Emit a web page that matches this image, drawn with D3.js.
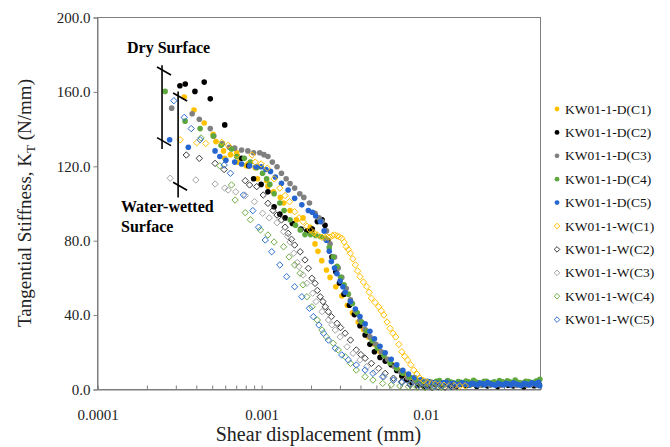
<!DOCTYPE html>
<html>
<head>
<meta charset="utf-8">
<script src="https://cdn.jsdelivr.net/npm/d3@7"></script>
<style>
  body { margin: 0; background: #fff; }
  svg { display: block; font-family: "Liberation Serif", "Times New Roman", serif; }
</style>
</head>
<body>
<div id="chart"></div>
<script>
// Series names (legend order = drawing order)
const seriesNames = ["KW01-1-D(C1)", "KW01-1-D(C2)", "KW01-1-D(C3)", "KW01-1-D(C4)", "KW01-1-D(C5)",
                     "KW01-1-W(C1)", "KW01-1-W(C2)", "KW01-1-W(C3)", "KW01-1-W(C4)", "KW01-1-W(C5)"];

// [shear displacement (mm), tangential stiffness (N/mm)]
const dryC1 = [[3.4e-4,157],[3.9e-4,150],[4.5e-4,143],[5.1e-4,137],[5.3e-4,133],[5.9e-4,128],[6.0e-4,124],[6.5e-4,126],[7.1e-4,127],[7.2e-4,122],[8.1e-4,120],[8.3e-4,121],[9.2e-4,119],[9.5e-4,113],[1.08e-3,112],[1.1e-3,109],[1.19e-3,106],[1.31e-3,103],[1.37e-3,100],[1.5e-3,96],[1.64e-3,91],[1.8e-3,92],[1.99e-3,87],[2.05e-3,84],[2.13e-3,78],[2.22e-3,74],[2.34e-3,69],[2.5e-3,64],[2.63e-3,60],[2.85e-3,55],[3.1e-3,50],[3.35e-3,45],[3.6e-3,41],[3.9e-3,36],[4.2e-3,32],[4.5e-3,28],[4.9e-3,24],[5.3e-3,20],[5.8e-3,16],[6.3e-3,13],[6.9e-3,10],[7.5e-3,8],[8.2e-3,6],[8.9e-3,4.5],[9.6e-3,3.6],[0.0104,3.1],[0.0112,2.8],[0.0121,3.3],[0.013,2.6],[0.014,2.9],[0.0151,2.4],[0.0163,3.0],[0.0175,2.7],[0.0188,2.2],[0.0202,2.9],[0.0218,2.5],[0.0234,3.2],[0.0252,2.4],[0.0271,2.8],[0.0291,2.1],[0.0313,2.7],[0.0337,3.4],[0.0362,2.5],[0.039,2.9],[0.0419,2.3],[0.045,3.1],[0.0484,2.6]];
const dryC2 = [[3.2e-4,163],[3.45e-4,164],[3.95e-4,160],[4.5e-4,165],[4.9e-4,156],[6.0e-4,142],[7.6e-4,124],[8.4e-4,120],[9.0e-4,113],[1.0e-3,110],[1.1e-3,106],[1.2e-3,98],[1.3e-3,94],[1.4e-3,92],[1.55e-3,89],[1.75e-3,86],[1.9e-3,85],[2.05e-3,86],[2.2e-3,90],[2.35e-3,91],[2.45e-3,88],[2.55e-3,80],[2.7e-3,71],[2.85e-3,63],[3.0e-3,57],[3.2e-3,51],[3.45e-3,45],[3.7e-3,40],[4.0e-3,34],[4.3e-3,29],[4.6e-3,24],[4.9e-3,20],[5.3e-3,17],[5.7e-3,15],[6.2e-3,13],[6.7e-3,10],[7.2e-3,7],[7.7e-3,5],[8.3e-3,3.5],[9.0e-3,2.2],[9.8e-3,1.5],[0.0106,1.8],[0.0115,2.4],[0.0124,1.6],[0.0133,2.9],[0.0143,2.0],[0.0154,1.4],[0.0166,2.5],[0.0178,1.9],[0.0191,2.8],[0.0206,1.5],[0.0222,2.3],[0.0239,1.7],[0.0257,2.6],[0.0276,1.3],[0.0297,3.6],[0.032,2.0],[0.0344,1.6],[0.037,2.4],[0.0398,1.2],[0.0428,3.2],[0.046,1.8],[0.0495,2.2]];
const dryC3 = [[2.85e-4,151],[3.8e-4,148],[4.2e-4,145],[4.9e-4,140],[5.15e-4,136],[5.8e-4,132],[6.4e-4,130],[6.9e-4,129.5],[7.6e-4,128.5],[8.3e-4,128],[9.0e-4,127],[9.8e-4,127],[1.04e-3,126],[1.1e-3,125],[1.17e-3,122],[1.25e-3,119.5],[1.33e-3,116],[1.42e-3,113],[1.5e-3,110.5],[1.6e-3,108],[1.72e-3,105],[1.82e-3,103],[1.97e-3,100],[2.13e-3,94.5],[2.25e-3,92],[2.35e-3,90],[2.5e-3,85],[2.63e-3,78],[2.8e-3,71],[2.95e-3,65],[3.1e-3,60],[3.3e-3,54],[3.5e-3,48],[3.75e-3,42],[4.0e-3,37],[4.3e-3,32],[4.6e-3,28],[5.0e-3,24],[5.4e-3,20],[5.9e-3,16],[6.5e-3,12],[7.1e-3,9],[7.8e-3,6],[8.6e-3,4],[9.4e-3,3],[0.0102,2.7],[0.011,2.4],[0.0119,2.9],[0.0128,2.5],[0.0138,2.2],[0.0149,2.8],[0.016,2.4],[0.0172,2.6],[0.0185,2.1],[0.0199,2.7],[0.0214,2.3],[0.023,2.6],[0.0248,2.0],[0.0267,2.5],[0.0287,2.2],[0.0309,2.7],[0.0332,2.3],[0.0357,2.0],[0.0384,2.6],[0.0413,2.2],[0.0444,2.5],[0.0478,2.1]];
const dryC4 = [[2.6e-4,160],[3.44e-4,144],[4.25e-4,140],[5.1e-4,136],[5.7e-4,131],[6.6e-4,129],[7.1e-4,125],[7.9e-4,124],[8.6e-4,122],[9.4e-4,119],[1.02e-3,116],[1.08e-3,113],[1.13e-3,110],[1.2e-3,105],[1.3e-3,100],[1.38e-3,96],[1.5e-3,91],[1.62e-3,88],[1.73e-3,85.5],[1.85e-3,83],[2.0e-3,83],[2.15e-3,82.5],[2.3e-3,82],[2.45e-3,81],[2.6e-3,76],[2.75e-3,71],[2.9e-3,66],[3.05e-3,60],[3.2e-3,56],[3.4e-3,51],[3.6e-3,46],[3.85e-3,41],[4.1e-3,36],[4.4e-3,31],[4.75e-3,26],[5.1e-3,22],[5.6e-3,18],[6.1e-3,14],[6.7e-3,11],[7.3e-3,8.5],[8.0e-3,6.5],[8.8e-3,5],[9.6e-3,4.2],[0.0104,4.0],[0.0108,3.7],[0.0113,3.4],[0.0117,4.2],[0.0122,4.5],[0.0127,3.0],[0.0132,3.2],[0.0137,4.6],[0.0142,3.9],[0.0147,3.5],[0.0153,2.8],[0.0159,4.0],[0.0165,3.6],[0.0171,3.2],[0.0177,4.3],[0.0183,3.9],[0.019,3.0],[0.0197,4.7],[0.0204,3.7],[0.0212,3.4],[0.022,2.9],[0.0228,4.2],[0.0236,4.1],[0.0245,3.0],[0.0254,3.3],[0.0263,3.9],[0.0273,2.7],[0.0283,4.5],[0.0294,3.8],[0.0305,3.3],[0.0316,4.4],[0.0328,3.9],[0.034,3.1],[0.0353,4.8],[0.0366,3.6],[0.038,3.4],[0.0394,2.9],[0.0409,4.2],[0.0424,4.0],[0.044,3.6],[0.0456,3.4],[0.0473,4.3],[0.049,4.6],[0.0499,5.2]];
const dryC5 = [[2.77e-4,134],[3.6e-4,130],[5.24e-4,128],[5.6e-4,125],[6.1e-4,123],[6.9e-4,122],[7.6e-4,121],[8.5e-4,120],[9.3e-4,119.5],[1.0e-3,119.5],[1.07e-3,118],[1.14e-3,117],[1.22e-3,114],[1.33e-3,110.6],[1.46e-3,107],[1.6e-3,102.5],[1.77e-3,99],[1.94e-3,96],[2.05e-3,95],[2.15e-3,93],[2.3e-3,90],[2.42e-3,85],[2.5e-3,80],[2.6e-3,74],[2.68e-3,68.5],[2.8e-3,65],[2.9e-3,62],[3.03e-3,58],[3.15e-3,55],[3.25e-3,52],[3.5e-3,47],[3.75e-3,43],[4.0e-3,39],[4.3e-3,35],[4.6e-3,31],[4.9e-3,27],[5.3e-3,23],[5.7e-3,19.5],[6.2e-3,16],[6.7e-3,13],[7.3e-3,10],[7.9e-3,8],[8.6e-3,6.2],[9.4e-3,5],[0.0102,4.2],[0.0106,3.8],[0.0111,3.5],[0.0115,3.2],[0.012,3.0],[0.0124,2.7],[0.0129,3.3],[0.0134,3.6],[0.0139,2.6],[0.0144,2.9],[0.015,3.1],[0.0155,2.2],[0.0161,2.4],[0.0167,3.4],[0.0173,2.9],[0.0179,2.6],[0.0186,2.2],[0.0193,3.0],[0.02,2.7],[0.0207,2.1],[0.0215,3.2],[0.0223,2.9],[0.0231,2.3],[0.024,3.5],[0.0249,2.8],[0.0258,2.4],[0.0268,2.0],[0.0278,3.1],[0.0288,2.5],[0.0299,2.2],[0.031,3.0],[0.0321,2.8],[0.0333,2.1],[0.0345,3.4],[0.0358,2.7],[0.0371,2.3],[0.0385,1.9],[0.0399,3.0],[0.0414,2.6],[0.043,2.2],[0.0445,3.3],[0.0462,2.9],[0.0479,2.4],[0.049,3.6],[0.0498,1.8]];

const wetC1 = [[3.21e-4,134],[4.05e-4,132.4],[4.6e-4,132],[5.75e-4,132.6],[6.3e-4,131],[7.1e-4,125.8],[8.8e-4,125.8],[9.2e-4,122],[1.0e-3,121],[1.09e-3,118.7],[1.2e-3,113],[1.3e-3,108],[1.4e-3,104],[1.49e-3,100.7],[1.6e-3,95.3],[1.7e-3,92],[1.8e-3,90],[1.9e-3,87.5],[1.99e-3,85.5],[2.1e-3,84],[2.2e-3,82.8],[2.35e-3,81.6],[2.45e-3,81.5],[2.55e-3,81.6],[2.63e-3,81.6],[2.72e-3,82.5],[2.8e-3,82.8],[2.9e-3,82.3],[3.0e-3,81.8],[3.1e-3,81],[3.2e-3,79],[3.3e-3,76.5],[3.4e-3,75],[3.5e-3,73],[3.62e-3,70],[3.75e-3,66.7],[3.87e-3,63.5],[4.0e-3,60.4],[4.2e-3,57.5],[4.4e-3,55],[4.55e-3,52],[4.7e-3,48.8],[4.95e-3,46.5],[5.2e-3,44.2],[5.4e-3,42],[5.6e-3,39.8],[5.85e-3,36],[6.1e-3,32.6],[6.35e-3,30],[6.6e-3,28],[6.9e-3,24],[7.2e-3,20],[7.5e-3,17.5],[7.8e-3,15.6],[8.15e-3,13],[8.5e-3,10.2],[8.9e-3,8],[9.3e-3,5.8],[9.8e-3,4.5],[1.03e-2,3.6],[1.09e-2,3],[1.15e-2,2.6],[1.22e-2,2.3],[1.3e-2,2.0],[1.4e-2,1.8],[1.5e-2,1.9],[1.62e-2,1.6],[1.75e-2,1.7]];
const wetC2 = [[3.5e-4,125.8],[4.2e-4,124],[5.24e-4,121.3],[5.95e-4,118],[8.0e-4,112],[8.5e-4,109.7],[9.4e-4,108.8],[1.03e-3,104.3],[1.1e-3,99.8],[1.18e-3,96],[1.25e-3,93.5],[1.33e-3,90.9],[1.4e-3,87],[1.46e-3,83.7],[1.53e-3,80.5],[1.6e-3,77.4],[1.73e-3,73.8],[1.85e-3,69.4],[1.94e-3,64.9],[2.04e-3,59.5],[2.13e-3,56.8],[2.2e-3,53],[2.29e-3,49.6],[2.38e-3,47],[2.46e-3,44.2],[2.57e-3,41.5],[2.68e-3,38.9],[2.9e-3,35.3],[3.05e-3,33],[3.25e-3,30],[3.5e-3,26.3],[3.8e-3,21],[4.05e-3,18.5],[4.3e-3,16.5],[4.7e-3,13.8],[5.2e-3,11.1],[5.7e-3,8.4],[6.4e-3,5.8],[7.2e-3,4],[8.1e-3,2.2],[9.0e-3,1.4],[1.0e-2,1.0],[1.1e-2,0.8],[1.2e-2,1.2],[1.32e-2,0.9],[1.45e-2,1.3]];
const wetC3 = [[2.79e-4,113.3],[4.0e-4,112.4],[5.24e-4,110.2],[6.0e-4,108],[6.3e-4,107],[7.0e-4,106],[8.0e-4,104],[9.1e-4,100.7],[1.02e-3,94.5],[1.12e-3,92],[1.25e-3,89.4],[1.37e-3,84.6],[1.45e-3,82],[1.5e-3,79],[1.58e-3,73],[1.66e-3,68],[1.7e-3,65.8],[1.8e-3,61.3],[1.9e-3,56.8],[2.06e-3,51.5],[2.16e-3,47],[2.35e-3,41.6],[2.57e-3,37.1],[2.7e-3,34.5],[2.83e-3,31.7],[3.03e-3,28],[3.34e-3,22.7],[3.63e-3,19.2],[4.0e-3,15.6],[4.4e-3,12],[4.96e-3,9.3],[5.6e-3,6.6],[6.4e-3,4.8],[7.2e-3,3.5],[8.1e-3,2.5],[9.1e-3,1.9],[1.02e-2,1.5],[1.13e-2,1.3],[1.25e-2,1.7],[1.38e-2,1.2],[1.52e-2,1.5]];
const wetC4 = [[4.3e-4,135],[5.6e-4,120],[6.6e-4,109.7],[6.94e-4,101.6],[8.0e-4,94.8],[8.6e-4,91],[9.9e-4,85.5],[1.1e-3,82.8],[1.2e-3,79],[1.37e-3,76.5],[1.48e-3,71],[1.6e-3,66.7],[1.73e-3,62.2],[1.8e-3,56],[1.9e-3,49.6],[2.04e-3,44.2],[2.2e-3,37.1],[2.35e-3,31.7],[2.5e-3,28],[2.75e-3,24.6],[2.95e-3,21],[3.25e-3,17.4],[3.5e-3,13.8],[3.8e-3,10.2],[4.3e-3,6.6],[4.8e-3,4.8],[5.5e-3,3],[6.2e-3,2.2],[7.0e-3,1.6],[7.9e-3,1.2],[8.9e-3,1.0],[1.0e-2,0.8],[1.12e-2,1.1],[1.25e-2,0.9]];
const wetC5 = [[2.94e-4,155],[3.4e-4,146],[3.75e-4,140],[4.25e-4,134],[5.95e-4,120.4],[6.5e-4,116],[7.8e-4,104.3],[8.9e-4,95.9],[9.65e-4,87],[1.06e-3,80.1],[1.16e-3,73.8],[1.3e-3,66.7],[1.43e-3,60.4],[1.6e-3,55],[1.77e-3,49.6],[1.97e-3,43.4],[2.08e-3,38.9],[2.25e-3,34.4],[2.4e-3,30],[2.57e-3,26.3],[2.83e-3,21.9],[3.1e-3,18.3],[3.4e-3,15.6],[3.8e-3,12.9],[4.3e-3,10.2],[4.8e-3,8.4],[5.5e-3,6.6],[6.4e-3,4.8],[7.2e-3,3.6],[8.1e-3,2.8],[9.1e-3,2.2],[1.02e-2,1.8],[1.14e-2,1.5],[1.27e-2,1.9],[1.42e-2,1.4]];

const seriesData = [dryC1, dryC2, dryC3, dryC4, dryC5, wetC1, wetC2, wetC3, wetC4, wetC5];
const seriesColors = ["#FFC000", "#000000", "#808080", "#5FA83E", "#2566D0",
                      "#FFC000", "#3A3A3A", "#A5A5A5", "#70AD47", "#2F6FD0"];

// axis ticks and labels
const xMajor = [0.0001, 0.001, 0.01];
const xTickLabels = ["0.0001", "0.001", "0.01"];
const yTicks = [0, 40, 80, 120, 160, 200];
const yTickLabels = ["0.0", "40.0", "80.0", "120.0", "160.0", "200.0"];

// range brackets (x in mm, y in N/mm): [x, lineTop, lineBottom, tickTop, tickBottom]
const dryBracket = [0.000249, 174, 129, 171, 133];
const wetBracket = [0.000312, 160, 103, 157, 109];

const W = 670, H = 447;
const margin = { top: 17, right: 130, bottom: 58, left: 97 };

const svg = d3.select("#chart").append("svg")
    .attr("width", W)
    .attr("height", H);

const x = d3.scaleLog()
    .domain([0.0001, 0.05])
    .range([margin.left, W - margin.right]);

const y = d3.scaleLinear()
    .domain([0, 200])
    .range([H - margin.bottom, margin.top]);

const axisColor = "#7f7f7f";

// plot frame
svg.append("rect")
    .attr("x", x.range()[0] + 0.5)
    .attr("y", y.range()[1] + 0.5)
    .attr("width", x.range()[1] - x.range()[0])
    .attr("height", y.range()[0] - y.range()[1])
    .attr("fill", "none")
    .attr("stroke", axisColor);

// X axis (log, ticks inside)
const xTicks = x.ticks().filter(d => d <= 0.05);
const gx = svg.append("g")
    .attr("transform", `translate(0.5,${y.range()[0] + 0.5})`)
    .call(d3.axisBottom(x)
        .tickValues(xTicks)
        .tickSize(-4)
        .tickPadding(20)
        .tickFormat(d => {
            const i = xMajor.findIndex(m => Math.abs(m - d) / m < 1e-6);
            return i >= 0 ? xTickLabels[i] : "";
        }));
gx.select(".domain").attr("stroke", axisColor);
gx.selectAll(".tick line").attr("stroke", axisColor);
gx.selectAll(".tick text")
    .attr("font-family", "Liberation Serif")
    .attr("font-size", 15)
    .attr("fill", "#222");

// Y axis
const gy = svg.append("g")
    .attr("transform", `translate(${x.range()[0] + 0.5},0.5)`)
    .call(d3.axisLeft(y)
        .tickValues(yTicks)
        .tickSize(4)
        .tickPadding(3)
        .tickFormat((d, i) => yTickLabels[i]));
gy.select(".domain").attr("stroke", axisColor);
gy.selectAll(".tick line").attr("stroke", axisColor);
gy.selectAll(".tick text")
    .attr("font-family", "Liberation Serif")
    .attr("font-size", 15)
    .attr("fill", "#222");

// axis titles
svg.append("text")
    .attr("x", (x.range()[0] + x.range()[1]) / 2)
    .attr("y", 441)
    .attr("text-anchor", "middle")
    .attr("font-size", 20)
    .attr("fill", "#222")
    .text("Shear displacement (mm)");

const yTitle = svg.append("text")
    .attr("transform", `translate(31,${(y.range()[0] + y.range()[1]) / 2}) rotate(-90)`)
    .attr("text-anchor", "middle")
    .attr("font-size", 19)
    .attr("fill", "#222");
yTitle.append("tspan").text("Tangential Stiffness, K");
yTitle.append("tspan").attr("font-size", 13).attr("dy", 4).text("T");
yTitle.append("tspan").attr("dy", -4).text(" (N/mm)");

// markers
const diamond = "M0,-3.2L3.2,0L0,3.2L-3.2,0Z";

seriesData.forEach((data, i) => {
    const g = svg.append("g");
    if (i < 5) {
        g.selectAll("circle")
            .data(data)
            .enter()
            .append("circle")
            .attr("cx", d => x(d[0]))
            .attr("cy", d => y(d[1]))
            .attr("r", 2.8)
            .attr("fill", seriesColors[i]);
    } else {
        g.selectAll("path")
            .data(data)
            .enter()
            .append("path")
            .attr("transform", d => `translate(${x(d[0])},${y(d[1])})`)
            .attr("d", diamond)
            .attr("fill", "none")
            .attr("stroke", seriesColors[i])
            .attr("stroke-width", 1);
    }
});

// brackets for the two surface conditions
[dryBracket, wetBracket].forEach(b => {
    const bx = x(b[0]);
    svg.append("line")
        .attr("x1", bx).attr("x2", bx)
        .attr("y1", y(b[1])).attr("y2", y(b[2]))
        .attr("stroke", "#000").attr("stroke-width", 1.6);
    [b[3], b[4]].forEach(v => {
        svg.append("line")
            .attr("x1", bx - 5).attr("y1", y(v) - 4)
            .attr("x2", bx + 9).attr("y2", y(v) + 4)
            .attr("stroke", "#000").attr("stroke-width", 1.6);
    });
});

svg.append("text")
    .attr("x", 127).attr("y", 53)
    .attr("font-size", 16).attr("font-weight", "bold")
    .text("Dry Surface");
svg.append("text")
    .attr("x", 121).attr("y", 212)
    .attr("font-size", 16).attr("font-weight", "bold")
    .text("Water-wetted");
svg.append("text")
    .attr("x", 121).attr("y", 232)
    .attr("font-size", 16).attr("font-weight", "bold")
    .text("Surface");

// legend
const legend = svg.append("g").attr("transform", "translate(557,109)");
seriesNames.forEach((name, i) => {
    const row = legend.append("g").attr("transform", `translate(0,${i * 23.4})`);
    if (i < 5) {
        row.append("circle").attr("r", 2.4).attr("fill", seriesColors[i]);
    } else {
        row.append("path").attr("d", "M0,-2.8L2.8,0L0,2.8L-2.8,0Z")
            .attr("fill", "none").attr("stroke", seriesColors[i]).attr("stroke-width", 1);
    }
    row.append("text")
        .attr("x", 8).attr("y", 4.5)
        .attr("font-size", 13.5)
        .attr("fill", "#111")
        .text(name);
});
</script>
</body>
</html>
